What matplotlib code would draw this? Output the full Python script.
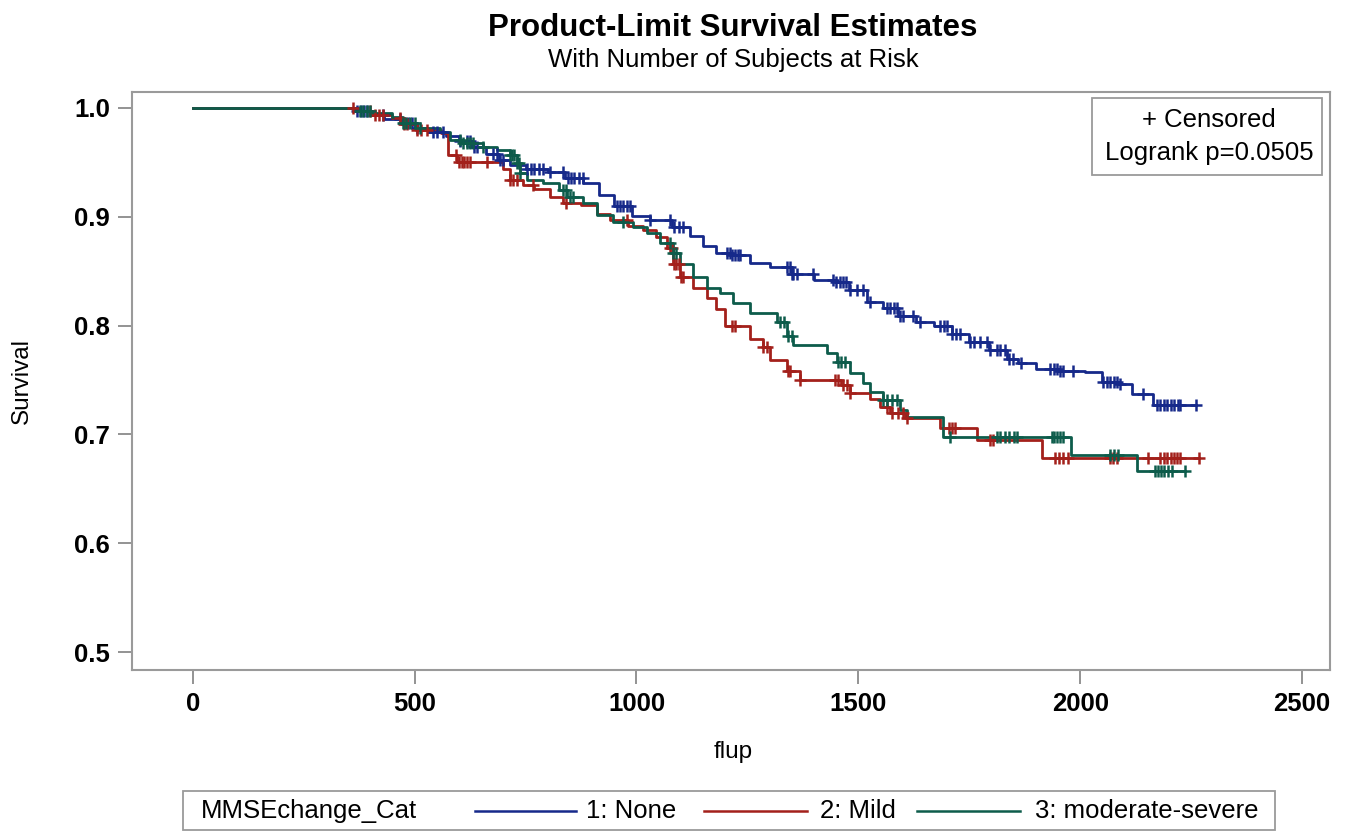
import numpy as np
import matplotlib
matplotlib.use("Agg")
import matplotlib.pyplot as plt
from matplotlib.lines import Line2D
from matplotlib.patches import Rectangle

plt.rcParams['font.family'] = ['Liberation Sans', 'DejaVu Sans']

# --- DATA ---
# event times / survival after each drop (step function, post)
none_t = [0, 370, 400, 430, 470, 500, 530, 570, 600, 630, 660, 690, 715, 750, 800, 840, 880, 915, 950, 990,
          1030, 1080, 1120, 1150, 1180, 1215, 1255, 1300, 1350, 1400, 1450, 1480, 1520, 1555, 1590, 1630, 1670,
          1710, 1750, 1795, 1835, 1860, 1900, 1950, 2010, 2050, 2085, 2117, 2165]
none_s = [1.0, 0.997, 0.994, 0.990, 0.986, 0.982, 0.978, 0.974, 0.970, 0.964, 0.958, 0.952, 0.948, 0.944, 0.941,
          0.936, 0.931, 0.920, 0.910, 0.901, 0.897, 0.891, 0.882, 0.873, 0.867, 0.865, 0.858, 0.854, 0.847, 0.842,
          0.840, 0.833, 0.822, 0.816, 0.809, 0.803, 0.800, 0.792, 0.785, 0.778, 0.769, 0.766, 0.760, 0.758, 0.757,
          0.748, 0.746, 0.737, 0.727]
none_end = 2260
none_cens = [370, 378, 385, 392, 428, 467, 475, 485, 495, 505, 541, 550, 564, 602, 617, 625, 633, 640, 676, 685,
             692, 699, 753, 762, 770, 780, 790, 805, 834, 845, 852, 860, 870, 879, 955, 962, 970, 978, 985, 1030,
             1075, 1085, 1095, 1105, 1204, 1210, 1215, 1222, 1228, 1233, 1339, 1345, 1350, 1353, 1362, 1398, 1443,
             1450, 1458, 1465, 1472, 1481, 1497, 1510, 1526, 1564, 1572, 1580, 1588, 1595, 1601, 1623, 1639, 1684,
             1692, 1700, 1710, 1720, 1729, 1752, 1760, 1775, 1790, 1797, 1812, 1820, 1830, 1840, 1849, 1867, 1932,
             1940, 1948, 1955, 1961, 1984, 2051, 2060, 2068, 2076, 2084, 2090, 2142, 2173, 2180, 2188, 2196, 2204,
             2212, 2220, 2225, 2260]

mild_t = [0, 365, 400, 450, 470, 505, 560, 575, 595, 700, 715, 745, 770, 805, 835, 875, 910, 940, 980, 1015,
          1045, 1068, 1082, 1098, 1127, 1160, 1180, 1200, 1256, 1285, 1301, 1340, 1368, 1460, 1481, 1526, 1549,
          1571, 1605, 1684, 1767, 1914]
mild_s = [1.0, 0.997, 0.994, 0.991, 0.985, 0.980, 0.977, 0.957, 0.950, 0.944, 0.934, 0.929, 0.926, 0.918, 0.913,
          0.911, 0.903, 0.897, 0.892, 0.888, 0.881, 0.871, 0.857, 0.845, 0.835, 0.825, 0.815, 0.800, 0.788, 0.780,
          0.768, 0.758, 0.750, 0.745, 0.738, 0.733, 0.725, 0.720, 0.715, 0.706, 0.695, 0.678]
mild_end = 2268
mild_cens = [361, 399, 410, 420, 428, 467, 475, 482, 505, 515, 527, 594, 600, 606, 612, 618, 624, 663, 715, 722,
             730, 767, 842, 978, 1075, 1080, 1085, 1090, 1095, 1100, 1105, 1215, 1222, 1285, 1294, 1341, 1346,
             1368, 1447, 1454, 1466, 1474, 1481, 1565, 1575, 1590, 1600, 1610, 1704, 1710, 1718, 1797, 1803,
             1943, 1952, 1962, 1972, 2067, 2075, 2083, 2153, 2180, 2188, 2196, 2204, 2212, 2218, 2225, 2268]

mod_t = [0, 375, 405, 450, 473, 505, 557, 579, 609, 654, 685, 715, 730, 737, 753, 789, 825, 843, 879, 911, 947,
         992, 1023, 1053, 1082, 1098, 1127, 1159, 1188, 1217, 1256, 1316, 1339, 1353, 1429, 1452, 1481, 1510,
         1526, 1556, 1594, 1610, 1690, 1979, 2128]
mod_s = [1.0, 0.997, 0.995, 0.992, 0.986, 0.982, 0.978, 0.971, 0.968, 0.964, 0.961, 0.957, 0.949, 0.940, 0.934,
         0.931, 0.925, 0.918, 0.913, 0.902, 0.895, 0.891, 0.885, 0.876, 0.867, 0.857, 0.845, 0.835, 0.830, 0.821,
         0.812, 0.803, 0.790, 0.782, 0.775, 0.767, 0.756, 0.747, 0.739, 0.732, 0.722, 0.716, 0.698, 0.681, 0.666]
mod_end = 2236
mod_cens = [376, 384, 392, 399, 473, 480, 490, 500, 512, 602, 610, 618, 625, 631, 654, 715, 720, 725, 730, 735,
            737, 834, 842, 850, 857, 969, 1075, 1082, 1090, 1323, 1332, 1341, 1350, 1454, 1462, 1470, 1556, 1565,
            1575, 1587, 1706, 1812, 1820, 1830, 1840, 1850, 1857, 1936, 1942, 1948, 1955, 1961, 2067, 2076, 2085,
            2168, 2175, 2182, 2190, 2198, 2207, 2236]

groups = ["1: None", "2: Mild", "3: moderate-severe"]
colors = ["#16298a", "#a3201b", "#0d5c4b"]
xticks = [0, 500, 1000, 1500, 2000, 2500]
yticks = [0.5, 0.6, 0.7, 0.8, 0.9, 1.0]

W, H = 1347, 834


def fx(px):
    return px / W


def fy(py):
    return 1 - py / H


fig = plt.figure(figsize=(W / 100, H / 100), dpi=100)
ax = fig.add_axes([fx(132), fy(670), fx(1330 - 132), (670 - 92) / H])

series = [(none_t, none_s, none_end, none_cens),
          (mild_t, mild_s, mild_end, mild_cens),
          (mod_t, mod_s, mod_end, mod_cens)]

for (t, s, end, cens), col in zip(series, colors):
    t = np.asarray(t, float)
    s = np.asarray(s, float)
    tt = np.append(t, end)
    ss = np.append(s, s[-1])
    ax.step(tt, ss, where='post', color=col, lw=2.0, zorder=3)
    c = np.asarray(cens, float)
    idx = np.searchsorted(t, c, side='right') - 1
    ax.plot(c, s[idx], ls='none', marker='+', ms=9, mew=1.8, color=col, zorder=4)

ax.set_xlim(-137, 2563)
ax.set_ylim(0.4835, 1.0147)
ax.set_xticks(xticks)
ax.set_xticklabels([str(v) for v in xticks])
ax.set_yticks(yticks)
ax.set_yticklabels([f"{v:.1f}" for v in yticks])
ax.tick_params(axis='both', labelsize=18.5, length=10, width=1.3, color='#8a8a8a', pad=6)
for lbl in ax.get_xticklabels() + ax.get_yticklabels():
    lbl.set_fontweight('bold')
for sp in ax.spines.values():
    sp.set_color('#9a9a9a')
    sp.set_linewidth(1.5)

# titles and axis labels
fig.text(fx(733), fy(28), "Product-Limit Survival Estimates", ha='center', va='center',
         fontsize=22.5, fontweight='bold')
fig.text(fx(733), fy(60), "With Number of Subjects at Risk", ha='center', va='center', fontsize=18.5)
fig.text(fx(22), fy(381), "Survival", rotation=90, ha='center', va='center', fontsize=17.5)
fig.text(fx(733), fy(752), "flup", ha='center', va='center', fontsize=17.5)

# censored / logrank box
fig.patches.append(Rectangle((fx(1092), fy(175)), fx(1322 - 1092), (175 - 98) / H,
                             transform=fig.transFigure, fill=False, ec='#9a9a9a', lw=1.3))
fig.text(fx(1209), fy(120), "+ Censored", ha='center', va='center', fontsize=18.5)
fig.text(fx(1209), fy(153), "Logrank p=0.0505", ha='center', va='center', fontsize=18.5)

# bottom legend
fig.patches.append(Rectangle((fx(183), fy(830)), fx(1275 - 183), (830 - 791) / H,
                             transform=fig.transFigure, fill=False, ec='#9a9a9a', lw=1.3))
fig.text(fx(201), fy(811), "MMSEchange_Cat", ha='left', va='center', fontsize=18.5)
line_x = [(475, 576), (704, 807), (917, 1020)]
text_x = [586, 820, 1035]
for (x0, x1), tx, col, lab in zip(line_x, text_x, colors, groups):
    fig.lines.append(Line2D([fx(x0), fx(x1)], [fy(811), fy(811)], transform=fig.transFigure,
                            color=col, lw=1.8))
    fig.text(fx(tx), fy(811), lab, ha='left', va='center', fontsize=18.5)

fig.savefig("out.png", dpi=100)
